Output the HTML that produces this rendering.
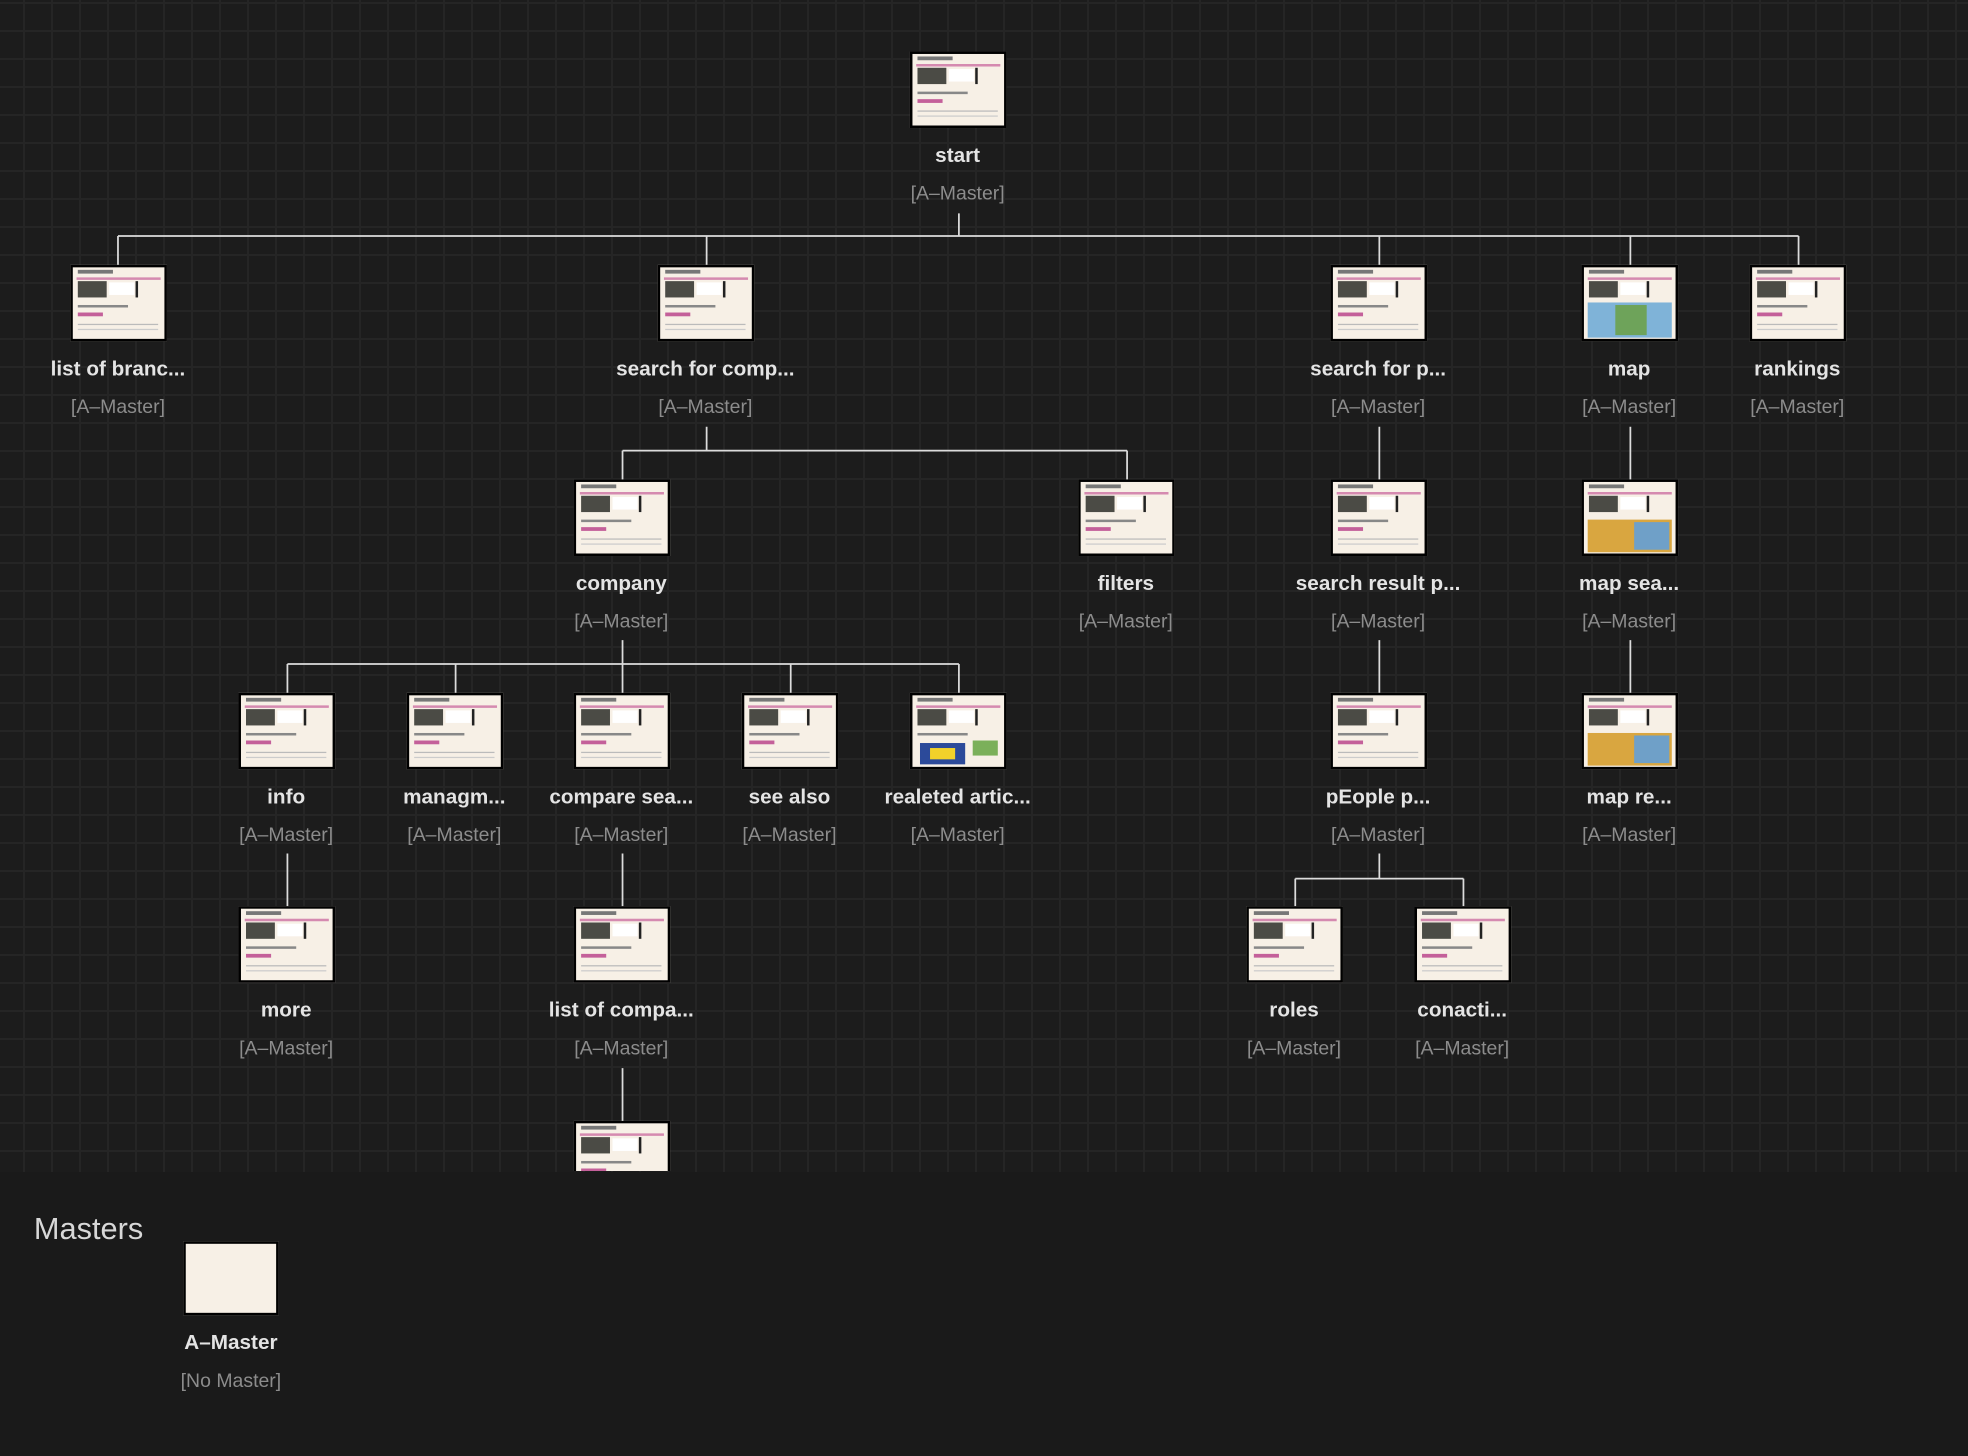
<!DOCTYPE html>
<html><head><meta charset="utf-8"><style>
html,body{margin:0;padding:0;}
body{width:1968px;height:1456px;background:#1a1a1a;position:relative;overflow:hidden;font-family:"Liberation Sans","DejaVu Sans",sans-serif;}
#grid{position:absolute;left:0;top:0;width:1968px;height:1172px;
background-color:#1c1c1c;
background-image:linear-gradient(to right,#252525 2px,transparent 2px),linear-gradient(to bottom,#252525 2px,transparent 2px);
background-size:28px 28px;background-position:23px 2px;}
#s{position:absolute;left:0;top:0;width:1568px;height:1160px;transform:scale(1.2551);transform-origin:0 0;}
.n{position:absolute;width:160px;margin-left:-80px;text-align:center;}
.t{position:relative;width:73px;height:57px;margin:0 auto;border:2px solid #000;background:#f7f0e6;overflow:hidden;}
.t .a{position:absolute;left:4px;top:2px;width:28px;height:3px;background:#777;}
.t .b{position:absolute;left:3px;top:8px;width:67px;height:2px;background:#d58ab0;}
.t .c{position:absolute;left:4px;top:11px;width:23px;height:13px;background:#4b4b45;}
.t .d{position:absolute;left:29px;top:12px;width:20px;height:10px;background:#fff;}
.t .e{position:absolute;left:50px;top:11px;width:2px;height:13px;background:#222;}
.t .f{position:absolute;left:4px;top:30px;width:40px;height:2px;background:#888;}
.t .g{position:absolute;left:4px;top:36px;width:20px;height:3px;background:#c4609a;}
.t .h{position:absolute;left:4px;top:45px;width:64px;height:1px;background:#bbb;box-shadow:0 4px 0 #ccc;}
.l{color:#e4e4e4;font-weight:bold;font-size:16.5px;margin-top:13px;height:20px;}
.m{color:#8c8c8c;font-size:15.5px;margin-top:11px;}
</style></head><body>
<div id="grid"></div>
<div id="s">
<svg width="1568" height="1160" style="position:absolute;left:0;top:0" stroke="#dcdcdc" stroke-width="1.4" fill="none">
<path d="M764 170V188M94 188H1433M94 188V212M563 188V212M1099 188V212M1299 188V212M1433 188V212"/>
<path d="M563 340V359M496 359H898M496 359V383M898 359V383"/>
<path d="M1099 340V383M1299 340V383"/>
<path d="M496 510V529M229 529H764M229 529V553M363 529V553M496 529V553M630 529V553M764 529V553"/>
<path d="M1099 510V553M1299 510V553"/>
<path d="M229 680V723M496 680V723M496 851V894"/>
<path d="M1099 680V700M1032 700H1166M1032 700V723M1166 700V723"/>
</svg>
<div class="n" style="left:763px;top:41px"><div class="t"><i class="a"></i><i class="b"></i><i class="c"></i><i class="d"></i><i class="e"></i><i class="f"></i><i class="g"></i><i class="h"></i></div><div class="l">start</div><div class="m">[A–Master]</div></div>

<div class="n" style="left:94px;top:211px"><div class="t"><i class="a"></i><i class="b"></i><i class="c"></i><i class="d"></i><i class="e"></i><i class="f"></i><i class="g"></i><i class="h"></i></div><div class="l">list of branc...</div><div class="m">[A–Master]</div></div>
<div class="n" style="left:562px;top:211px"><div class="t"><i class="a"></i><i class="b"></i><i class="c"></i><i class="d"></i><i class="e"></i><i class="f"></i><i class="g"></i><i class="h"></i></div><div class="l">search for comp...</div><div class="m">[A–Master]</div></div>
<div class="n" style="left:1098px;top:211px"><div class="t"><i class="a"></i><i class="b"></i><i class="c"></i><i class="d"></i><i class="e"></i><i class="f"></i><i class="g"></i><i class="h"></i></div><div class="l">search for p...</div><div class="m">[A–Master]</div></div>
<div class="n" style="left:1298px;top:211px"><div class="t"><i class="a"></i><i class="b"></i><i class="c"></i><i class="d"></i><i class="e"></i><i style="position:absolute;left:3px;top:28px;width:67px;height:28px;background:#7fb3d8"></i><i style="position:absolute;left:25px;top:30px;width:25px;height:24px;background:#6ea35a"></i></div><div class="l">map</div><div class="m">[A–Master]</div></div>
<div class="n" style="left:1432px;top:211px"><div class="t"><i class="a"></i><i class="b"></i><i class="c"></i><i class="d"></i><i class="e"></i><i class="f"></i><i class="g"></i><i class="h"></i></div><div class="l">rankings</div><div class="m">[A–Master]</div></div>

<div class="n" style="left:495px;top:382px"><div class="t"><i class="a"></i><i class="b"></i><i class="c"></i><i class="d"></i><i class="e"></i><i class="f"></i><i class="g"></i><i class="h"></i></div><div class="l">company</div><div class="m">[A–Master]</div></div>
<div class="n" style="left:897px;top:382px"><div class="t"><i class="a"></i><i class="b"></i><i class="c"></i><i class="d"></i><i class="e"></i><i class="f"></i><i class="g"></i><i class="h"></i></div><div class="l">filters</div><div class="m">[A–Master]</div></div>
<div class="n" style="left:1098px;top:382px"><div class="t"><i class="a"></i><i class="b"></i><i class="c"></i><i class="d"></i><i class="e"></i><i class="f"></i><i class="g"></i><i class="h"></i></div><div class="l">search result p...</div><div class="m">[A–Master]</div></div>
<div class="n" style="left:1298px;top:382px"><div class="t"><i class="a"></i><i class="b"></i><i class="c"></i><i class="d"></i><i class="e"></i><i style="position:absolute;left:3px;top:30px;width:67px;height:26px;background:#d9a640"></i><i style="position:absolute;left:40px;top:32px;width:28px;height:22px;background:#6fa0c8"></i></div><div class="l">map sea...</div><div class="m">[A–Master]</div></div>

<div class="n" style="left:228px;top:552px"><div class="t"><i class="a"></i><i class="b"></i><i class="c"></i><i class="d"></i><i class="e"></i><i class="f"></i><i class="g"></i><i class="h"></i></div><div class="l">info</div><div class="m">[A–Master]</div></div>
<div class="n" style="left:362px;top:552px"><div class="t"><i class="a"></i><i class="b"></i><i class="c"></i><i class="d"></i><i class="e"></i><i class="f"></i><i class="g"></i><i class="h"></i></div><div class="l">managm...</div><div class="m">[A–Master]</div></div>
<div class="n" style="left:495px;top:552px"><div class="t"><i class="a"></i><i class="b"></i><i class="c"></i><i class="d"></i><i class="e"></i><i class="f"></i><i class="g"></i><i class="h"></i></div><div class="l">compare sea...</div><div class="m">[A–Master]</div></div>
<div class="n" style="left:629px;top:552px"><div class="t"><i class="a"></i><i class="b"></i><i class="c"></i><i class="d"></i><i class="e"></i><i class="f"></i><i class="g"></i><i class="h"></i></div><div class="l">see also</div><div class="m">[A–Master]</div></div>
<div class="n" style="left:763px;top:552px"><div class="t"><i class="a"></i><i class="b"></i><i class="c"></i><i class="d"></i><i class="e"></i><i class="f"></i><i style="position:absolute;left:6px;top:38px;width:36px;height:17px;background:#2c4a9a"></i><i style="position:absolute;left:14px;top:42px;width:20px;height:9px;background:#f2d12a"></i><i style="position:absolute;left:48px;top:36px;width:20px;height:12px;background:#7bb05a"></i></div><div class="l">realeted artic...</div><div class="m">[A–Master]</div></div>
<div class="n" style="left:1098px;top:552px"><div class="t"><i class="a"></i><i class="b"></i><i class="c"></i><i class="d"></i><i class="e"></i><i class="f"></i><i class="g"></i><i class="h"></i></div><div class="l">pEople p...</div><div class="m">[A–Master]</div></div>
<div class="n" style="left:1298px;top:552px"><div class="t"><i class="a"></i><i class="b"></i><i class="c"></i><i class="d"></i><i class="e"></i><i style="position:absolute;left:3px;top:30px;width:67px;height:26px;background:#d9a640"></i><i style="position:absolute;left:40px;top:32px;width:28px;height:22px;background:#6fa0c8"></i></div><div class="l">map re...</div><div class="m">[A–Master]</div></div>

<div class="n" style="left:228px;top:722px"><div class="t"><i class="a"></i><i class="b"></i><i class="c"></i><i class="d"></i><i class="e"></i><i class="f"></i><i class="g"></i><i class="h"></i></div><div class="l">more</div><div class="m">[A–Master]</div></div>
<div class="n" style="left:495px;top:722px"><div class="t"><i class="a"></i><i class="b"></i><i class="c"></i><i class="d"></i><i class="e"></i><i class="f"></i><i class="g"></i><i class="h"></i></div><div class="l">list of compa...</div><div class="m">[A–Master]</div></div>
<div class="n" style="left:1031px;top:722px"><div class="t"><i class="a"></i><i class="b"></i><i class="c"></i><i class="d"></i><i class="e"></i><i class="f"></i><i class="g"></i><i class="h"></i></div><div class="l">roles</div><div class="m">[A–Master]</div></div>
<div class="n" style="left:1165px;top:722px"><div class="t"><i class="a"></i><i class="b"></i><i class="c"></i><i class="d"></i><i class="e"></i><i class="f"></i><i class="g"></i><i class="h"></i></div><div class="l">conacti...</div><div class="m">[A–Master]</div></div>

<div style="position:absolute;left:457px;top:893px;width:77px;height:40px;overflow:hidden"><div class="t" style="margin:0"><i class="a"></i><i class="b"></i><i class="c"></i><i class="d"></i><i class="e"></i><i class="f"></i><i class="g"></i><i class="h"></i></div></div>

<div style="position:absolute;left:27px;top:966px;color:#d8d8d8;font-size:24.5px;">Masters</div>
<div class="n" style="left:184px;top:989px"><div class="t" style="border-width:2px;width:72px;height:55px"></div><div class="l">A–Master</div><div class="m">[No Master]</div></div>
</div>
</body></html>
